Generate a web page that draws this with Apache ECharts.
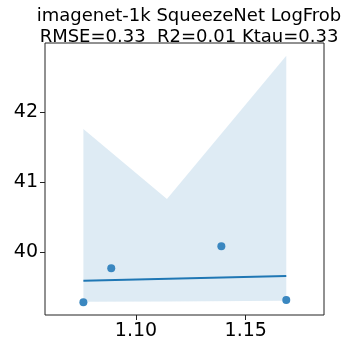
<!DOCTYPE html>
<html><head><meta charset="utf-8">
<script src="https://cdn.jsdelivr.net/npm/echarts@6/dist/echarts.min.js"></script>
<style>html,body{margin:0;padding:0;background:#fff}#c{width:360px;height:360px}</style>
</head><body><div id="c"></div>
<script>
var titleLines = ['imagenet-1k SqueezeNet LogFrob', 'RMSE=0.33  R2=0.01 Ktau=0.33'];
var pointsX = [1.076, 1.0887, 1.1389, 1.1685];
var pointsY = [39.288, 39.772, 40.085, 39.32];
var fitX = [1.076, 1.1685];
var fitY = [39.595, 39.662];
var bandX = [1.076, 1.1141, 1.1685];
var bandUpper = [41.756, 40.76, 42.80];
var bandLower = [39.295, 39.30, 39.31];
var xTicks = [1.10, 1.15];
var yTicks = [40, 41, 42];

var chart = echarts.init(document.getElementById('c'), null, {renderer: 'canvas'});
var font = 'DejaVu Sans';
var bandData = bandX.map(function (x, i) { return [x, bandUpper[i], bandLower[i]]; });
chart.setOption({
  animation: false,
  title: {
    text: titleLines.join('\n'),
    left: 184, textAlign: 'center', top: 1,
    textStyle: {fontFamily: font, fontSize: 18, fontWeight: 'normal', color: '#000', lineHeight: 21}
  },
  grid: {left: 45, right: 36, top: 43, bottom: 45, show: true, borderColor: '#222', borderWidth: 1, backgroundColor: 'transparent'},
  xAxis: {
    type: 'value', min: 1.0585, max: 1.1857,
    axisLine: {show: false},
    splitLine: {show: false},
    axisTick: {show: true, inside: false, length: 5, lineStyle: {color: '#222'}, customValues: xTicks},
    axisLabel: {fontFamily: font, fontSize: 19, color: '#000', margin: 7, customValues: xTicks,
      formatter: function (v) { return v.toFixed(2); }}
  },
  yAxis: {
    type: 'value', min: 39.107, max: 42.98,
    axisLine: {show: false},
    splitLine: {show: false},
    axisTick: {show: true, inside: false, length: 5, lineStyle: {color: '#222'}, customValues: yTicks},
    axisLabel: {fontFamily: font, fontSize: 19, color: '#000', margin: 7, customValues: yTicks}
  },
  series: [
    {
      type: 'custom',
      data: bandData,
      encode: {x: 0, y: [1, 2]},
      renderItem: function (params, api) {
        if (params.dataIndex !== 0) return null;
        var pts = [];
        var i;
        for (i = 0; i < bandX.length; i++) pts.push(api.coord([bandX[i], bandUpper[i]]));
        for (i = bandX.length - 1; i >= 0; i--) pts.push(api.coord([bandX[i], bandLower[i]]));
        return {type: 'polygon', shape: {points: pts}, style: {fill: 'rgba(31,119,180,0.15)'}};
      },
      z: 1
    },
    {
      type: 'line',
      data: fitX.map(function (x, i) { return [x, fitY[i]]; }),
      showSymbol: false,
      lineStyle: {color: '#1f77b4', width: 2},
      z: 2
    },
    {
      type: 'scatter',
      data: pointsX.map(function (x, i) { return [x, pointsY[i]]; }),
      symbolSize: 8,
      itemStyle: {color: '#3a87c0', opacity: 1},
      z: 3
    }
  ]
});
</script></body></html>
